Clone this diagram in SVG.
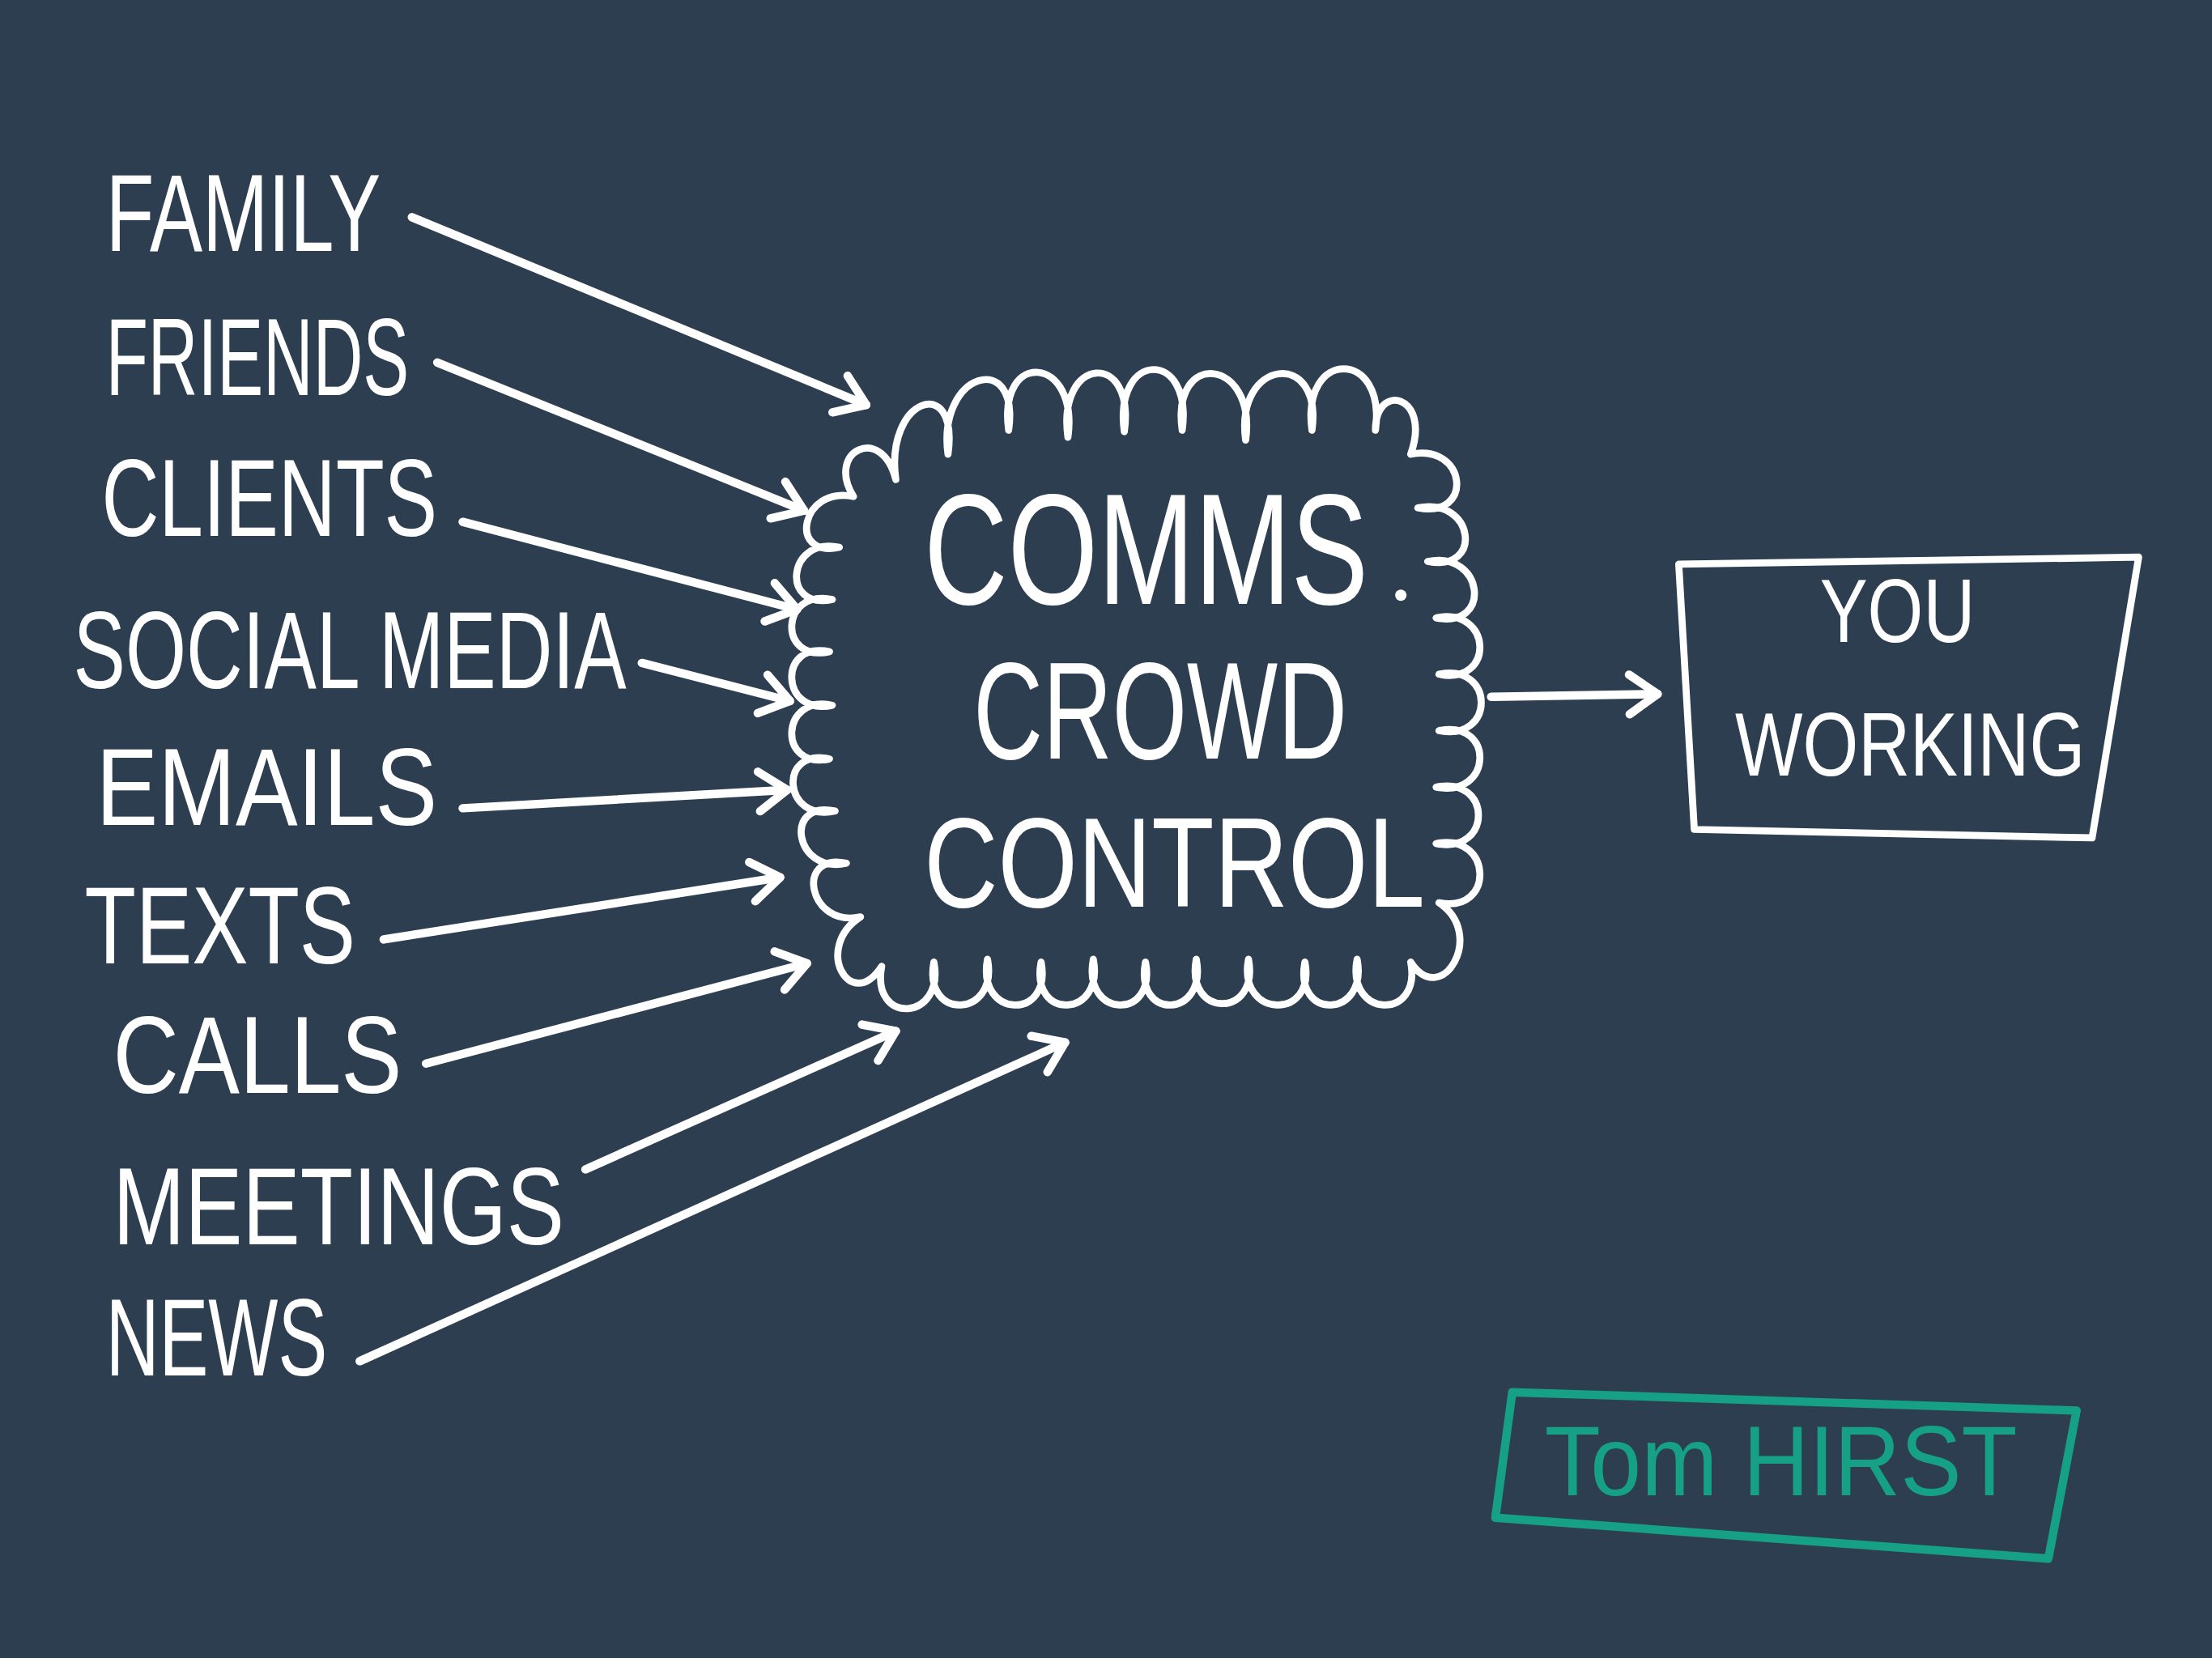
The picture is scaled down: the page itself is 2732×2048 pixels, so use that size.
<svg xmlns="http://www.w3.org/2000/svg" width="2732" height="2048" viewBox="0 0 2732 2048">
<defs>
<style>
.lbl{font-family:"Liberation Sans","Noto Sans",Arial,sans-serif;fill:#ffffff;font-size:78px;}
.big{font-family:"Liberation Sans","Noto Sans",Arial,sans-serif;fill:#ffffff;}
.sig{font-family:"Liberation Sans","Noto Sans",Arial,sans-serif;fill:#16a085;}
.conn{stroke:#ffffff;stroke-width:6;fill:none;stroke-linecap:round;marker-end:url(#head);}
.cloud{stroke:#ffffff;stroke-width:5;fill:none;stroke-linejoin:round;stroke-linecap:round;}
.box{stroke:#ffffff;stroke-width:5;fill:none;stroke-linejoin:round;}
.sigbox{stroke:#16a085;stroke-width:6;fill:none;stroke-linejoin:round;}
</style>
<marker id="head" markerUnits="userSpaceOnUse" viewBox="-26 -20 32 40" refX="0" refY="0" markerWidth="32" markerHeight="40" orient="auto" overflow="visible">
<path d="M -20 -14 L 0 0 L -20 14" fill="none" stroke="#ffffff" stroke-width="6" stroke-linecap="round" stroke-linejoin="round"/>
</marker>
</defs>
<rect x="0" y="0" width="2732" height="2048" fill="#2c3e50"/>
<g transform="scale(1.74235)">
<g id="family"><text class="lbl" x="75" y="178" textLength="195" lengthAdjust="spacingAndGlyphs">FAMILY</text></g>
<g id="friends"><text class="lbl" x="75" y="280" textLength="215" lengthAdjust="spacingAndGlyphs">FRIENDS</text></g>
<g id="clients"><text class="lbl" x="72" y="380" textLength="238" lengthAdjust="spacingAndGlyphs">CLIENTS</text></g>
<g id="social-media"><text class="lbl" x="52" y="488" textLength="392" lengthAdjust="spacingAndGlyphs">SOCIAL MEDIA</text></g>
<g id="emails"><text class="lbl" x="68" y="585" textLength="242" lengthAdjust="spacingAndGlyphs">EMAILS</text></g>
<g id="texts"><text class="lbl" x="60" y="683" textLength="192" lengthAdjust="spacingAndGlyphs">TEXTS</text></g>
<g id="calls"><text class="lbl" x="80" y="775" textLength="205" lengthAdjust="spacingAndGlyphs">CALLS</text></g>
<g id="meetings"><text class="lbl" x="80" y="882" textLength="320" lengthAdjust="spacingAndGlyphs">MEETINGS</text></g>
<g id="news"><text class="lbl" x="75" y="975" textLength="157" lengthAdjust="spacingAndGlyphs">NEWS</text></g>

<g id="comms-crowd-control">
<path class="cloud" d="M 635 340
C 627 282 680 264 672 322
C 664 264 723 247 715 305
C 707 247 765 252 757 310
C 749 252 805 248 797 306
C 789 248 846 247 838 305
C 830 247 891 254 883 312
C 875 254 938 247 930 305
C 922 247 983 247 975 305
C 975 270 1015 280 1000 322
C 1040 314 1045 368 1005 360
C 1045 352 1052 406 1012 398
C 1052 390 1058 446 1018 438
C 1058 430 1060 486 1020 478
C 1060 470 1060 526 1020 518
C 1060 510 1058 566 1018 558
C 1058 550 1058 606 1018 598
C 1058 590 1060 648 1020 640
C 1054 662 1022 716 1000 682
C 1008 724 954 722 962 680
C 970 722 917 724 925 682
C 933 724 877 722 885 680
C 893 722 840 722 848 680
C 856 722 804 724 812 682
C 820 724 767 722 775 680
C 783 722 730 724 738 682
C 746 724 692 722 700 680
C 708 722 654 724 662 682
C 670 724 617 727 625 685
C 603 719 576 672 610 650
C 573 658 563 604 600 612
C 563 620 555 567 592 575
C 555 583 551 530 588 538
C 551 546 553 492 590 500
C 553 508 551 454 588 462
C 551 470 553 417 590 425
C 553 433 558 380 595 388
C 558 396 568 344 605 352
C 585 320 625 300 635 340 Z"/>
<text class="big" x="655" y="428" font-size="112" textLength="315" lengthAdjust="spacingAndGlyphs">COMMS</text>
<circle cx="993" cy="422" r="4" fill="#ffffff"/>
<text class="big" x="690" y="538" font-size="98" textLength="265" lengthAdjust="spacingAndGlyphs">CROWD</text>
<text class="big" x="655" y="643" font-size="90" textLength="355" lengthAdjust="spacingAndGlyphs">CONTROL</text>
</g>

<g id="you-working">
<path class="box" d="M 1190 400 L 1516 395 L 1483 594 L 1201 588 Z"/>
<text class="big" x="1290" y="455" font-size="64" textLength="110" lengthAdjust="spacingAndGlyphs">YOU</text>
<text class="big" x="1230" y="550" font-size="64" textLength="248" lengthAdjust="spacingAndGlyphs">WORKING</text>
</g>

<g id="signature">
<path class="sigbox" d="M 1072 987 L 1472 1000 L 1452 1105 L 1060 1076 Z"/>
<text class="sig" x="1095" y="1060" font-size="70" textLength="335" lengthAdjust="spacingAndGlyphs">Tom HIRST</text>
</g>

<g id="connectors">
<path class="conn" d="M 292 154 L 614 287"/>
<path class="conn" d="M 310 257 L 570 362"/>
<path class="conn" d="M 328 370 L 565 432"/>
<path class="conn" d="M 455 470 L 560 497"/>
<path class="conn" d="M 328 573 L 558 560"/>
<path class="conn" d="M 272 666 L 553 622"/>
<path class="conn" d="M 302 754 L 572 683"/>
<path class="conn" d="M 415 829 L 635 731"/>
<path class="conn" d="M 255 965 L 755 739"/>
<path class="conn" d="M 1057 494 L 1175 492"/>
</g>
</g>
</svg>
